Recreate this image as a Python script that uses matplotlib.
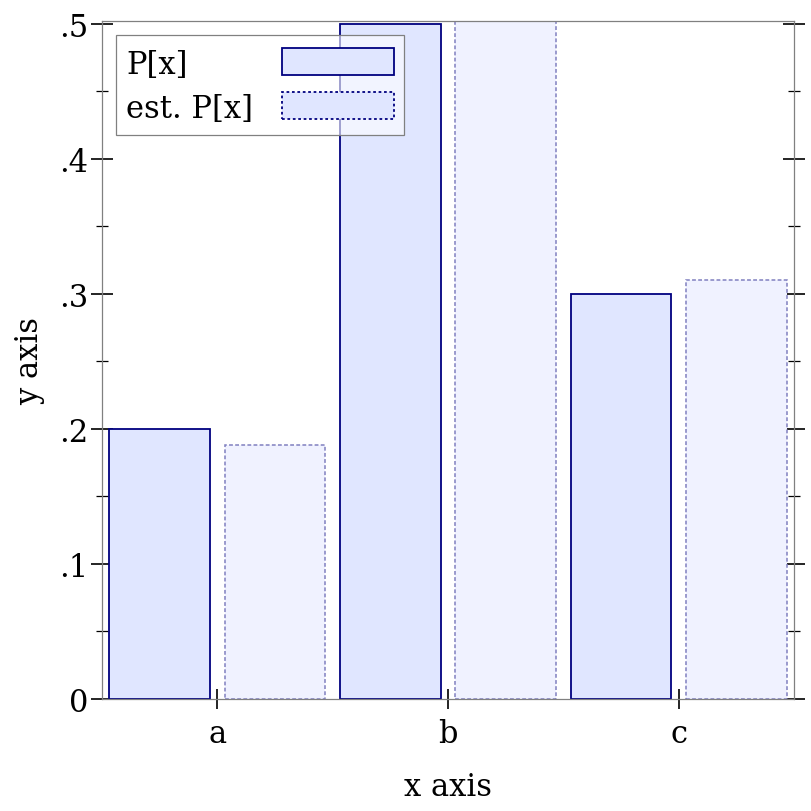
import numpy as np
import matplotlib
matplotlib.use("Agg")
import matplotlib.pyplot as plt
from matplotlib.patches import Rectangle
from matplotlib.ticker import FixedLocator, FuncFormatter

# values
categories = ["a", "b", "c"]
p_true = [0.2, 0.5, 0.3]
p_est = [0.188, 0.502, 0.31]
series_names = ["P[x]", "est. P[x]"]

fill_true = "#e0e6ff"
fill_est = "#f0f2ff"
edge_true = "#00007f"
edge_est = "#8080c0"

plt.rcParams["font.family"] = "DejaVu Serif"
plt.rcParams["font.size"] = 22

W = H = 812
fig = plt.figure(figsize=(W / 100, H / 100), dpi=100)
ax = fig.add_axes([102 / W, 1 - 700 / H, 692 / W, 678 / H])
ax.set_axisbelow(True)

x = np.arange(len(categories))
w = 0.437
ax.bar(x + 0.25, p_true, width=w, color=fill_true, edgecolor=edge_true,
       linewidth=1.3, zorder=2)
ax.bar(x + 0.75, p_est, width=w, color=fill_est, edgecolor=edge_est,
       linewidth=1.1, linestyle=(0, (2.5, 1.5)), zorder=2)

ax.set_xlim(0, 3)
ax.set_ylim(0, 0.5022)

ax.xaxis.set_major_locator(FixedLocator(x + 0.5))
ax.set_xticklabels(categories)
ax.yaxis.set_major_locator(FixedLocator([0, 0.1, 0.2, 0.3, 0.4, 0.5]))
ax.yaxis.set_minor_locator(FixedLocator([0.05, 0.15, 0.25, 0.35, 0.45]))
ax.yaxis.set_major_formatter(FuncFormatter(lambda v, p: "0" if v == 0 else ("%.1f" % v).lstrip("0")))

for s in ax.spines.values():
    s.set_color("#808080")
    s.set_linewidth(0.9)

ax.tick_params(axis="y", which="major", direction="inout", length=16, width=1.2,
               left=True, right=True, pad=2)
ax.tick_params(axis="y", which="minor", direction="inout", length=8, width=0.9,
               left=True, right=True)
ax.tick_params(axis="x", which="major", direction="inout", length=15, width=1.2,
               bottom=True, top=False, pad=6)

ax.set_xlabel("x axis", labelpad=16)
ax.set_ylabel("y axis", labelpad=10)

# legend box, laid out in figure pixels (text left, swatch right)
def px(xp, yp):
    return xp / W, 1 - yp / H

fig.patches.append(Rectangle(px(116, 136), 288 / W, 100 / H, transform=fig.transFigure,
                             facecolor=(1, 1, 1, 0.6), edgecolor="#808080", linewidth=0.9,
                             zorder=5))
styles = ["solid", (0, (1.5, 1.5))]
for i, (name, ls) in enumerate(zip(series_names, styles)):
    yc = 62 + 44 * i
    fig.text(*px(126, yc), name, ha="left", va="center_baseline", zorder=6)
    fig.patches.append(Rectangle(px(282, yc + 13.5), 112 / W, 27 / H, transform=fig.transFigure,
                                 facecolor=fill_true, edgecolor=edge_true, linewidth=1.3,
                                 linestyle=ls, zorder=6))

fig.savefig("out.png", dpi=100)
